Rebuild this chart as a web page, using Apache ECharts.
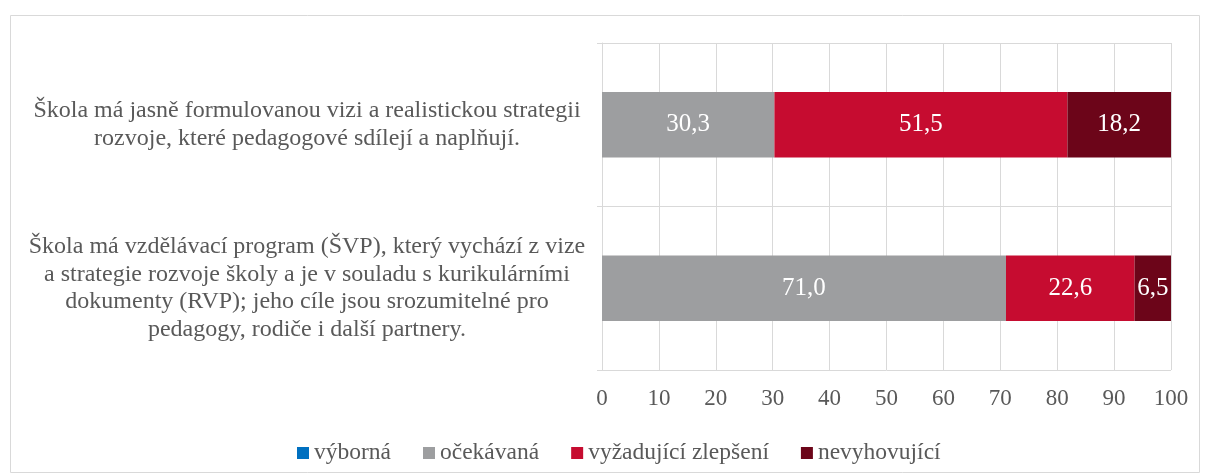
<!DOCTYPE html>
<html>
<head>
<meta charset="utf-8">
<script src="https://cdn.jsdelivr.net/npm/echarts@6/dist/echarts.min.js"></script>
<style>
html,body{margin:0;padding:0;background:#fff;}
#c{width:1205px;height:476px;}
</style>
</head>
<body>
<div id="c"></div>
<script>
var categories = [
  "Škola má jasně formulovanou vizi a realistickou strategii\nrozvoje, které pedagogové sdílejí a naplňují.",
  "Škola má vzdělávací program (ŠVP), který vychází z vize\na strategie rozvoje školy a je v souladu s kurikulárními\ndokumenty (RVP); jeho cíle jsou srozumitelné pro\npedagogy, rodiče i další partnery."
];
var seriesNames = ["výborná", "očekávaná", "vyžadující zlepšení", "nevyhovující"];
var vyborna = [0, 0];
var ocekavana = [30.3, 71.0];
var vyzadujici = [51.5, 22.6];
var nevyhovujici = [18.2, 6.5];
var xTicks = [0, 10, 20, 30, 40, 50, 60, 70, 80, 90, 100];

var colors = ["#0070c0", "#9d9ea0", "#c60c30", "#6c0519"];
var font = "'Liberation Serif', 'Times New Roman', serif";
var values = [vyborna, ocekavana, vyzadujici, nevyhovujici];

var chart = echarts.init(document.getElementById('c'));
var series = seriesNames.map(function (n, i) {
  return {
    name: n,
    type: 'bar',
    stack: 'total',
    data: values[i],
    barCategoryGap: '60%',
    itemStyle: { color: colors[i] },
    label: {
      show: true,
      color: '#ffffff',
      fontFamily: font,
      fontSize: 25,
      formatter: function (p) { return p.value ? p.value.toFixed(1).replace('.', ',') : ''; }
    }
  };
});

chart.setOption({
  animation: false,
  textStyle: { fontFamily: font },
  graphic: [{
    type: 'rect', left: 8, top: 13,
    shape: { width: 1189, height: 457 },
    style: { fill: 'none', stroke: '#d9d9d9', lineWidth: 1 }
  }],
  grid: { left: 602, right: 34, top: 43, bottom: 106 },
  legend: {
    top: 436,
    left: 292,
    icon: 'rect',
    itemWidth: 12,
    itemHeight: 12,
    itemGap: 32,
    textStyle: { fontFamily: font, fontSize: 23.5, color: '#595959' },
    data: seriesNames
  },
  xAxis: {
    type: 'value',
    min: 0, max: 100, interval: 10,
    axisLine: { show: false },
    axisTick: { show: false },
    splitLine: { show: true, lineStyle: { color: '#d9d9d9', width: 1 } },
    axisLabel: {
      color: '#595959', fontFamily: font, fontSize: 23, margin: 17,
      formatter: function (v) { return xTicks.indexOf(v) >= 0 ? String(v) : ''; }
    }
  },
  yAxis: {
    type: 'category',
    inverse: true,
    data: categories,
    axisLine: { show: true, lineStyle: { color: '#d9d9d9' } },
    axisTick: { show: true, length: 5, lineStyle: { color: '#d9d9d9' } },
    splitLine: { show: true, lineStyle: { color: '#d9d9d9' } },
    axisLabel: {
      color: '#595959', fontFamily: font, fontSize: 24, lineHeight: 27.5,
      align: 'center', margin: 295
    }
  },
  series: series
});
</script>
</body>
</html>
